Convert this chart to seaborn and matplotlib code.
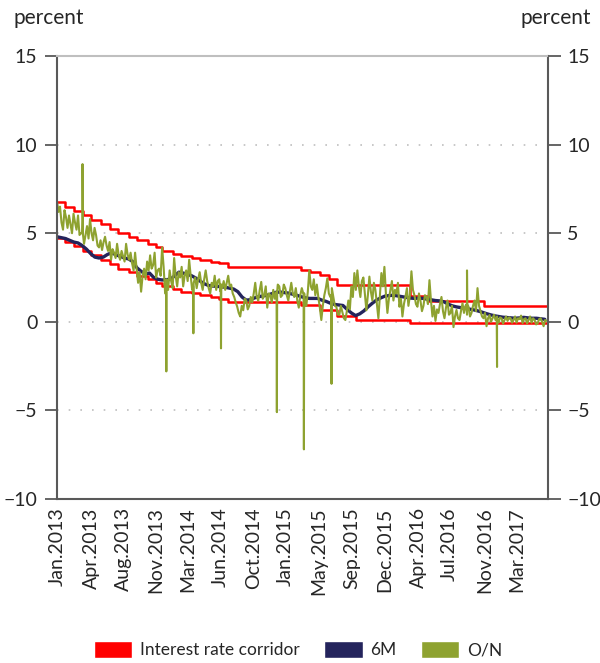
import pandas as pd
import seaborn as sns
import matplotlib.pyplot as plt
from matplotlib.patches import Patch

# interest rate corridor: dates when a bound changed, upper and lower bound (percent)
corridor_dates = ["2013-01-02", "2013-01-30", "2013-02-28", "2013-03-28", "2013-04-25",
                  "2013-05-30", "2013-06-27", "2013-07-25", "2013-08-29", "2013-09-26",
                  "2013-10-31", "2013-11-28", "2013-12-19", "2014-01-23", "2014-02-20",
                  "2014-03-27", "2014-04-24", "2014-05-29", "2014-06-26", "2014-07-24",
                  "2015-03-26", "2015-04-23", "2015-05-28", "2015-06-25", "2015-07-23",
                  "2015-09-24", "2016-03-23", "2016-05-25", "2016-11-24", "2017-06-24"]
corridor_upper = [6.75, 6.50, 6.25, 6.00, 5.75, 5.50, 5.25, 5.00, 4.80, 4.60,
                  4.40, 4.20, 4.00, 3.85, 3.70, 3.60, 3.50, 3.40, 3.30, 3.10,
                  2.95, 2.80, 2.65, 2.40, 2.10, 2.10, 1.45, 1.15, 0.90, 0.90]
corridor_lower = [4.75, 4.50, 4.25, 4.00, 3.75, 3.50, 3.25, 3.00, 2.80, 2.60,
                  2.40, 2.20, 2.00, 1.85, 1.70, 1.60, 1.50, 1.40, 1.30, 1.10,
                  0.95, 0.95, 0.65, 0.65, 0.35, 0.10, -0.05, -0.05, -0.05, -0.05]

# 6M rate, read every two weeks from 2 Jan 2013
m6_start = "2013-01-02"
m6_values = [4.80, 4.75, 4.70, 4.60, 4.50, 4.45, 4.30, 4.10, 3.85, 3.65,
             3.60, 3.65, 3.80, 3.90, 3.78, 3.70, 3.60, 3.55, 3.40, 3.05,
             2.85, 2.70, 2.75, 2.50, 2.40, 2.36, 2.38, 2.40, 2.60, 2.80,
             2.75, 2.68, 2.60, 2.47, 2.30, 2.15, 2.05, 2.02, 2.00, 1.98,
             1.95, 1.90, 1.85, 1.70, 1.40, 1.22, 1.25, 1.35, 1.42, 1.46,
             1.50, 1.58, 1.66, 1.68, 1.65, 1.62, 1.56, 1.50, 1.42, 1.36,
             1.32, 1.32, 1.32, 1.22, 1.15, 1.05, 0.98, 0.95, 0.92, 0.70,
             0.50, 0.35, 0.45, 0.62, 0.85, 1.05, 1.23, 1.35, 1.45, 1.48,
             1.50, 1.46, 1.42, 1.38, 1.34, 1.32, 1.33, 1.32, 1.28, 1.24,
             1.20, 1.18, 1.13, 1.00, 0.90, 0.84, 0.80, 0.76, 0.72, 0.68,
             0.62, 0.55, 0.47, 0.40, 0.34, 0.30, 0.26, 0.24, 0.22, 0.20,
             0.22, 0.25, 0.22, 0.20, 0.20, 0.17, 0.14]

# O/N rate, read every five days from 2 Jan 2013
on_start = "2013-01-02"
on_values = [6.8, 6.2, 6.5, 5.6, 5.2, 6.3, 5.9, 5.3, 6.0, 5.5, 5.0, 6.1, 5.6, 5.2, 6.0, 4.9,
             5.0, 5.7, 4.4, 4.9, 5.4, 4.7, 5.8, 5.0, 4.6, 5.3, 4.9, 4.3, 4.2, 4.6, 4.05, 4.5,
             4.8, 4.3, 4.0, 4.5, 3.5, 4.1, 3.9, 3.6, 4.4, 3.8, 3.5, 4.0, 3.7, 3.4, 4.4, 3.8,
             3.5, 3.9, 3.3, 2.9, 3.9, 3.0, 2.2, 2.8, 1.7, 2.6, 3.0, 2.4, 3.4, 2.9, 3.75, 3.0,
             3.2, 3.9, 2.5, 2.9, 3.0, 2.6, 4.2, 3.1, 1.6, 2.4, 1.8, 2.9, 2.3, 1.9, 3.6, 2.6,
             2.0, 2.8, 2.5, 3.1, 2.0, 2.6, 2.9, 2.3, 3.5, 2.6, 1.8, 2.2, 2.5, 1.9, 2.4, 2.8,
             2.2, 1.8, 2.4, 2.9, 2.3, 1.9, 1.6, 2.2, 2.0, 2.6, 1.8, 2.3, 2.4, 1.7, 1.9, 2.3,
             1.8, 2.2, 2.6, 2.0, 2.1, 1.6, 1.4, 1.1, 0.85, 0.5, 0.3, 0.9, 0.65, 1.3, 1.2, 0.7,
             0.9, 1.4, 1.1, 1.6, 2.2, 1.4, 1.2, 1.8, 2.25, 1.3, 1.5, 2.0, 0.8, 1.6, 1.5, 1.1,
             1.8, 1.3, 1.6, 2.1, 2.0, 1.4, 1.5, 2.1, 1.9, 1.5, 1.2, 1.7, 2.2, 1.6, 1.4, 1.9,
             1.2, 0.8, 1.5, 1.9, 1.6, 1.1, 0.9, 1.7, 2.9, 2.0, 1.8, 2.4, 1.5, 2.1, 1.4, 0.8,
             0.1, 0.9, 1.5, 1.9, 2.45, 1.6, 1.4, 1.9, 1.4, 0.9, 0.85, 0.4, 0.4, 0.9, 0.55, 0.2,
             0.1, 0.6, 1.2, 0.7, 2.0, 1.4, 2.75, 1.8, 2.9, 2.0, 1.4, 2.3, 2.5, 1.6, 0.65, 1.5,
             2.55, 1.7, 1.2, 2.2, 1.8, 1.0, 0.2, 1.5, 2.75, 2.0, 3.1, 1.6, 0.5, 1.3, 1.8, 2.3,
             1.2, 1.8, 1.6, 2.2, 0.85, 1.3, 0.3, 1.0, 1.4, 1.9, 0.9, 1.5, 2.85, 1.8, 1.5, 1.0,
             0.85, 1.6, 1.2, 0.6, 0.9, 1.5, 1.4, 1.0, 2.35, 1.2, 0.3, 0.9, 0.05, 0.7, 0.5, 1.0,
             1.4, 0.6, 0.2, 0.8, 1.2, 0.4, 0.5, 0.9, -0.3, 0.3, 0.67, 0.2, 0.1, 0.6, 1.05, 0.5,
             0.9, 0.4, 0.85, 0.3, 0.5, 0.9, 1.2, 0.6, 1.9, 0.9, 0.6, 0.3, 0.2, 0.5, -0.25, 0.2,
             0.38, 0.0, 0.2, 0.4, 0.1, 0.3, -0.05, 0.25, 0.2, -0.1, 0.1, 0.3, 0.05, 0.25, 0.2, -0.05,
             0.1, 0.3, -0.05, 0.2, 0.15, 0.35, -0.07, 0.15, 0.2, -0.1, 0.1, 0.3, -0.05, 0.2, 0.1, -0.15,
             -0.1, 0.15, 0.2, 0.0, -0.25, 0.1, 0.05]

# one-day O/N spikes and the level either side of them
spike_dates = ["2013-03-28", "2014-01-01", "2014-04-01", "2014-07-02", "2015-01-04",
               "2015-04-04", "2015-07-05", "2016-09-28", "2017-01-06"]
spike_values = [8.9, -2.8, -0.65, -1.5, -5.1, -7.2, -3.5, 2.9, -2.55]
spike_base = [5.0, 1.7, 2.0, 2.1, 1.7, 1.6, 1.5, 1.0, 0.1]

tick_dates = ["2013-01-02", "2013-04-25", "2013-08-12", "2013-11-26", "2014-03-13",
              "2014-06-30", "2014-10-19", "2015-01-31", "2015-05-24", "2015-09-10",
              "2015-12-29", "2016-04-20", "2016-07-31", "2016-11-26", "2017-03-13"]
tick_labels = ["Jan.2013", "Apr.2013", "Aug.2013", "Nov.2013", "Mar.2014",
               "Jun.2014", "Oct.2014", "Jan.2015", "May.2015", "Sep.2015",
               "Dec.2015", "Apr.2016", "Jul.2016", "Nov.2016", "Mar.2017"]

RED = "#FF0000"
NAVY = "#24245C"
OLIVE = "#8EA230"

sns.set_theme(style="white")
plt.rcParams["font.family"] = ["Lato", "DejaVu Sans"]

corridor = pd.DataFrame({"date": pd.to_datetime(corridor_dates),
                         "upper": corridor_upper, "lower": corridor_lower})
m6 = pd.DataFrame({"date": pd.date_range(m6_start, periods=len(m6_values), freq="14D"),
                   "value": m6_values})

on = pd.DataFrame({"date": pd.date_range(on_start, periods=len(on_values), freq="5D"),
                   "value": on_values})
sd = pd.to_datetime(spike_dates)
one = pd.Timedelta(days=1)
spikes = pd.DataFrame({"date": list(sd - one) + list(sd) + list(sd + one),
                       "value": spike_base + spike_values + spike_base})
on = pd.concat([on, spikes]).sort_values("date").reset_index(drop=True)

fig = plt.figure(figsize=(6, 6.63), dpi=100)
ax = fig.add_axes([0.095, 0.2474, 0.818, 0.6681])

sns.lineplot(data=corridor, x="date", y="upper", ax=ax, color=RED, linewidth=1.8,
             drawstyle="steps-post", estimator=None)
sns.lineplot(data=corridor, x="date", y="lower", ax=ax, color=RED, linewidth=1.8,
             drawstyle="steps-post", estimator=None)
sns.lineplot(data=m6, x="date", y="value", ax=ax, color=NAVY, linewidth=2.4,
             estimator=None)
sns.lineplot(data=on, x="date", y="value", ax=ax, color=OLIVE, linewidth=1.5,
             estimator=None)

ax.set_xlim(pd.Timestamp("2013-01-02"), pd.Timestamp("2017-06-24"))
ax.set_ylim(-10, 15)
ax.set_yticks([-10, -5, 0, 5, 10, 15])
ax.set_xticks(pd.to_datetime(tick_dates))
ax.set_xticklabels(tick_labels, rotation=90, fontsize=14)
ax.set_xlabel("")
ax.set_ylabel("")
for y in [-5, 0, 5, 10]:
    ax.axhline(y, color="#BFBFBF", linewidth=1.2, linestyle=(0, (1, 6)), zorder=0)
ax.tick_params(axis="x", length=0, pad=6)
ax.tick_params(axis="y", direction="out", length=9, width=1.3, color="#595959",
               labelsize=14, pad=5)

for side in ["left", "right", "bottom"]:
    ax.spines[side].set_color("#595959")
    ax.spines[side].set_linewidth(1.5)
ax.spines["top"].set_color("#BFBFBF")
ax.spines["top"].set_linewidth(1.5)

ax2 = ax.twinx()
ax2.set_ylim(-10, 15)
ax2.set_yticks([-10, -5, 0, 5, 10, 15])
ax2.tick_params(axis="y", direction="out", length=9, width=1.3, color="#595959",
                labelsize=14, pad=5)
for side in ax2.spines:
    ax2.spines[side].set_visible(False)

fig.text(0.023, 0.973, "percent", fontsize=15, ha="left", va="center")
fig.text(0.985, 0.973, "percent", fontsize=15, ha="right", va="center")

handles = [Patch(facecolor=RED), Patch(facecolor=NAVY), Patch(facecolor=OLIVE)]
fig.legend(handles, ["Interest rate corridor", "6M", "O/N"], loc="center",
           bbox_to_anchor=(0.497, 0.02), ncol=3, frameon=False, fontsize=12.5,
           handlelength=2.2, handleheight=1.15, columnspacing=1.4, handletextpad=0.45)

fig.savefig("out.png", dpi=100)
